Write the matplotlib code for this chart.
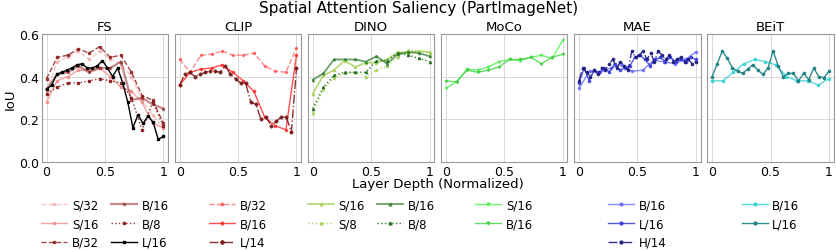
import numpy as np
import matplotlib
matplotlib.use("Agg")
import matplotlib.pyplot as plt

# IoU per layer
fs_s32 = [0.33, 0.47, 0.49, 0.52, 0.48, 0.52, 0.48, 0.46, 0.40, 0.29, 0.22, 0.16]
fs_s16 = [0.28, 0.38, 0.40, 0.43, 0.43, 0.44, 0.40, 0.35, 0.33, 0.28, 0.18, 0.16]
fs_b32 = [0.39, 0.49, 0.50, 0.53, 0.51, 0.54, 0.49, 0.50, 0.42, 0.31, 0.29, 0.18]
fs_b16 = [0.34, 0.41, 0.42, 0.45, 0.42, 0.44, 0.44, 0.47, 0.29, 0.30, 0.27, 0.25]
fs_b8 = [0.32, 0.35, 0.37, 0.37, 0.38, 0.39, 0.38, 0.37, 0.30, 0.15, 0.28, 0.17]
fs_l16 = [0.34, 0.36, 0.41, 0.42, 0.43, 0.44, 0.455, 0.46, 0.44, 0.44, 0.45, 0.475,
          0.44, 0.40, 0.44, 0.37, 0.28, 0.16, 0.22, 0.18, 0.215, 0.185, 0.105, 0.12]

clip_b32 = [0.48, 0.42, 0.50, 0.505, 0.52, 0.50, 0.50, 0.51, 0.45, 0.425, 0.42, 0.535]
clip_b16 = [0.36, 0.42, 0.435, 0.44, 0.455, 0.42, 0.38, 0.33, 0.21, 0.17, 0.15, 0.50]
clip_l14 = [0.36, 0.41, 0.42, 0.40, 0.41, 0.42, 0.425, 0.425, 0.42, 0.45, 0.41, 0.39,
            0.37, 0.37, 0.28, 0.27, 0.20, 0.21, 0.17, 0.19, 0.21, 0.21, 0.14, 0.44]

dino_s16 = [0.32, 0.405, 0.43, 0.475, 0.445, 0.465, 0.465, 0.48, 0.515, 0.51, 0.52, 0.515]
dino_s8 = [0.23, 0.34, 0.395, 0.415, 0.42, 0.40, 0.43, 0.45, 0.49, 0.525, 0.52, 0.51]
dino_b16 = [0.385, 0.415, 0.48, 0.48, 0.48, 0.47, 0.495, 0.46, 0.505, 0.515, 0.51, 0.495]
dino_b8 = [0.25, 0.35, 0.405, 0.42, 0.42, 0.42, 0.475, 0.475, 0.51, 0.50, 0.485, 0.47]

moco_s16 = [0.345, 0.375, 0.435, 0.43, 0.445, 0.47, 0.48, 0.475, 0.49, 0.50, 0.485, 0.57]
moco_b16 = [0.38, 0.375, 0.43, 0.42, 0.43, 0.445, 0.48, 0.48, 0.49, 0.46, 0.49, 0.505]

mae_b16 = [0.345, 0.425, 0.42, 0.44, 0.455, 0.425, 0.43, 0.475, 0.47, 0.46, 0.48, 0.515]
mae_l16 = [0.37, 0.44, 0.38, 0.43, 0.42, 0.44, 0.42, 0.46, 0.43, 0.44, 0.45, 0.49,
           0.50, 0.48, 0.45, 0.48, 0.49, 0.47, 0.49, 0.47, 0.48, 0.47, 0.49, 0.48]
mae_h14 = [0.38, 0.44, 0.42, 0.40, 0.43, 0.41, 0.44, 0.43, 0.46, 0.48, 0.44, 0.47,
           0.45, 0.43, 0.52, 0.49, 0.50, 0.52, 0.48, 0.51, 0.47, 0.52, 0.50, 0.48,
           0.50, 0.47, 0.48, 0.49, 0.47, 0.48, 0.46, 0.47]

beit_b16 = [0.38, 0.38, 0.42, 0.46, 0.48, 0.47, 0.455, 0.40, 0.38, 0.38, 0.36, 0.39]
beit_l16 = [0.40, 0.46, 0.52, 0.485, 0.44, 0.425, 0.415, 0.435, 0.455, 0.43, 0.41, 0.44,
            0.52, 0.45, 0.40, 0.415, 0.415, 0.38, 0.415, 0.385, 0.44, 0.40, 0.395, 0.425]

# (panel, [(label, values, color, linestyle, marker, lw, alpha)], legend columns)
panels = [
    ("FS", [("S/32", fs_s32, "#f29a9a", "--", "s", 1.0, 0.55),
            ("S/16", fs_s16, "#f28c8c", "-", "s", 1.0, 0.8),
            ("B/32", fs_b32, "#8b1a1a", "--", "s", 1.0, 0.8),
            ("B/16", fs_b16, "#8b1a1a", "-", "s", 1.6, 0.5),
            ("B/8", fs_b8, "#8b1a1a", ":", "s", 1.0, 0.9),
            ("L/16", fs_l16, "#000000", "-", "s", 1.0, 1.0)], 2),
    ("CLIP", [("B/32", clip_b32, "#ff4040", "--", "P", 1.0, 0.6),
              ("B/16", clip_b16, "#ff3030", "-", "P", 1.0, 0.85),
              ("L/14", clip_l14, "#7a1a1a", "-.", "D", 1.0, 0.9)], 1),
    ("DINO", [("S/16", dino_s16, "#a6d15a", "-", "^", 1.3, 0.8),
              ("S/8", dino_s8, "#a6d15a", ":", "^", 1.0, 0.9),
              ("B/16", dino_b16, "#2a7a2a", "-", "^", 1.3, 0.7),
              ("B/8", dino_b8, "#1f6f1f", ":", "^", 1.0, 0.9)], 2),
    ("MoCo", [("S/16", moco_s16, "#4cf04c", "-", "v", 1.0, 0.8),
              ("B/16", moco_b16, "#40d040", "-", "v", 1.0, 0.8)], 1),
    ("MAE", [("B/16", mae_b16, "#6a6aff", "-", "o", 1.0, 0.8),
             ("L/16", mae_l16, "#3a3ae0", "-", "o", 1.0, 0.85),
             ("H/14", mae_h14, "#1c1c80", "-.", "o", 1.0, 0.9)], 1),
    ("BEiT", [("B/16", beit_b16, "#30d0d0", "-", "o", 1.0, 0.8),
              ("L/16", beit_l16, "#1a8080", "-", "o", 1.0, 0.9)], 1),
]

fig, axes = plt.subplots(1, 6, figsize=(8.37, 2.51), dpi=100, sharey=True)
fig.subplots_adjust(left=0.050, right=0.996, top=0.861, bottom=0.351, wspace=0.055)

for ax, (name, series, ncol) in zip(axes, panels):
    for label, vals, color, ls, mk, lw, alpha in series:
        x = np.linspace(0, 1, len(vals))
        ax.plot(x, vals, color=color, linestyle=ls, marker=mk, markersize=1.6,
                linewidth=lw, alpha=alpha, label=label)
    ax.set_title(name, fontsize=9.5, pad=3)
    ax.set_ylim(0, 0.6)
    ax.set_xlim(-0.04, 1.04)
    ax.set_xticks([0, 0.5, 1])
    ax.set_xticklabels(["0", "0.5", "1"])
    ax.set_yticks([0, 0.2, 0.4, 0.6])
    ax.grid(True, color="#d8d8d8", linewidth=0.7)
    ax.tick_params(labelsize=9, length=0, pad=2)
    for sp in ax.spines.values():
        sp.set_color("#999999")
    ax.legend(loc="upper center", bbox_to_anchor=(0.5, -0.2), ncol=ncol,
              frameon=False, fontsize=8.5, handlelength=2.2, handletextpad=0.4,
              columnspacing=1.0, labelspacing=0.5, markerscale=1.3)

axes[0].set_yticklabels(["0.0", "0.2", "0.4", "0.6"])
axes[0].set_ylabel("IoU", fontsize=9.5, labelpad=2)
fig.suptitle("Spatial Attention Saliency (PartImageNet)", fontsize=11, y=0.995)
fig.text(0.523, 0.263, "Layer Depth (Normalized)", ha="center", va="center", fontsize=9.5)

fig.savefig("out.png", dpi=100)
